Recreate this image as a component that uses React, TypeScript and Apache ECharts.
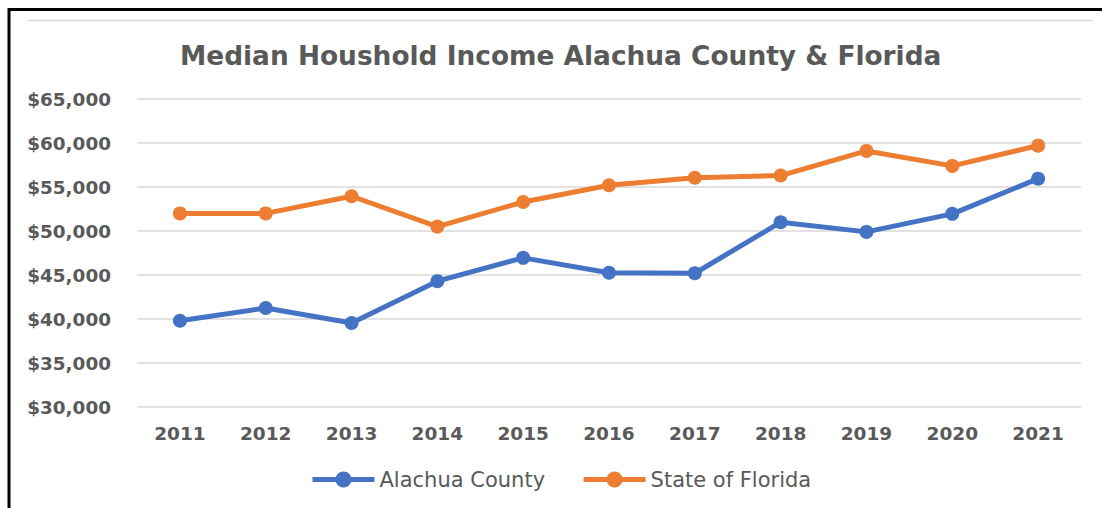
import React, { useEffect, useRef } from "react";
import * as echarts from "echarts";

const years = ["2011", "2012", "2013", "2014", "2015", "2016", "2017", "2018", "2019", "2020", "2021"];
const alachua = [39800, 41250, 39550, 44300, 46950, 45250, 45200, 51000, 49900, 51950, 55950];
const florida = [52000, 52000, 53950, 50500, 53300, 55200, 56050, 56300, 59100, 57400, 59700];
const titleText = "Median Houshold Income Alachua County & Florida";

const FONT = "'DejaVu Sans', sans-serif";
const GRAY = "#595959";

export default function App() {
  const ref = useRef<HTMLDivElement>(null);
  useEffect(() => {
    if (!ref.current) return;
    const chart = echarts.init(ref.current, undefined, { renderer: "svg" });
    chart.setOption({
      animation: false,
      backgroundColor: "#ffffff",
      title: {
        text: titleText,
        left: 175,
        top: 37,
        textStyle: { fontFamily: FONT, fontWeight: "bold", fontSize: 26.4, color: GRAY },
      },
      legend: {
        left: 305,
        top: 464,
        itemWidth: 62,
        itemHeight: 20,
        itemGap: 36,
        lineStyle: { width: 5 },
        textStyle: { fontFamily: FONT, fontSize: 21, color: GRAY },
        data: ["Alachua County", "State of Florida"],
      },
      grid: { left: 137, right: 21, top: 99, bottom: 101 },
      xAxis: {
        type: "category",
        data: years,
        boundaryGap: true,
        axisLine: { show: false },
        axisTick: { show: false },
        axisLabel: { fontFamily: FONT, fontWeight: "bold", fontSize: 18.5, color: GRAY, margin: 17 },
      },
      yAxis: {
        type: "value",
        min: 30000,
        max: 65000,
        interval: 5000,
        axisLine: { show: false },
        axisTick: { show: false },
        splitLine: { lineStyle: { color: "#d9d9d9", width: 1.5 } },
        axisLabel: {
          fontFamily: FONT,
          fontWeight: "bold",
          fontSize: 18.4,
          color: GRAY,
          margin: 26,
          formatter: (v: number) => "$" + v.toLocaleString("en-US"),
        },
      },
      series: [
        {
          name: "Alachua County",
          type: "line",
          data: alachua,
          symbol: "circle",
          symbolSize: 14,
          lineStyle: { color: "#4472C4", width: 5 },
          itemStyle: { color: "#4472C4" },
        },
        {
          name: "State of Florida",
          type: "line",
          data: florida,
          symbol: "circle",
          symbolSize: 14,
          lineStyle: { color: "#ED7D31", width: 5 },
          itemStyle: { color: "#ED7D31" },
        },
      ],
      graphic: [
        {
          type: "line",
          shape: { x1: 28, y1: 20.5, x2: 1093, y2: 20.5 },
          style: { stroke: "#d9d9d9", lineWidth: 1.5 },
          silent: true,
        },
        {
          type: "polyline",
          shape: { points: [[9, 510], [9, 9.5], [1104, 9.5]] },
          style: { stroke: "#000000", lineWidth: 3, fill: "none" },
          silent: true,
        },
      ],
    });
    return () => chart.dispose();
  }, []);
  return (
    <div
      ref={ref}
      style={{ position: "fixed", left: 0, top: 0, width: 1102, height: 508 }}
    />
  );
}
